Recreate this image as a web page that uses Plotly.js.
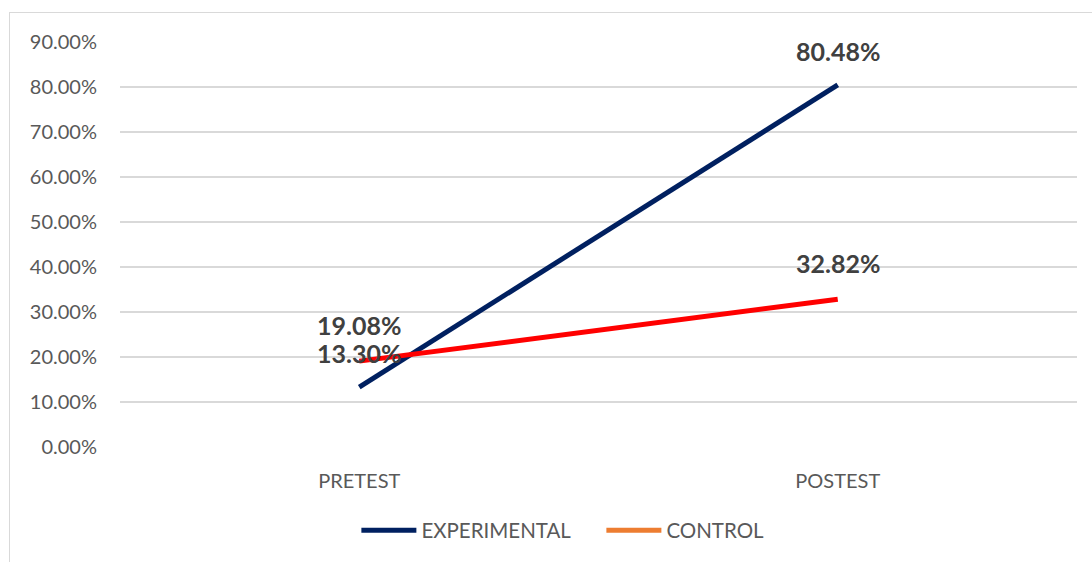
<!DOCTYPE html>
<html><head><meta charset="utf-8">
<script src="https://cdn.plot.ly/plotly-3.0.1.min.js"></script>
<style>
html,body{margin:0;padding:0;background:#fff;width:1092px;height:562px;overflow:hidden;}
#frame{position:absolute;left:9px;top:12px;width:1200px;height:700px;border:1.5px solid #d9d9d9;box-sizing:border-box;}
#chart{position:absolute;left:0;top:0;width:1092px;height:562px;}
</style></head>
<body>
<div id="frame"></div>
<div id="chart"></div>
<script>
const categories = ["PRETEST", "POSTEST"];
const experimental = [0.1330, 0.8048];
const control = [0.1908, 0.3282];
const expLabels = ["13.30%", "80.48%"];
const ctrlLabels = ["19.08%", "32.82%"];
const yTicks = [0, 0.1, 0.2, 0.3, 0.4, 0.5, 0.6, 0.7, 0.8, 0.9];

const font = "Lato, 'Open Sans', sans-serif";
const labelFont = {family: font, size: 25, color: "#404040", weight: "bold"};
const traces = [
  {x: categories, y: experimental, type: "scatter", mode: "lines", name: "EXPERIMENTAL",
   line: {color: "#002060", width: 5}},
  {x: categories, y: control, type: "scatter", mode: "lines", name: "CONTROL", showlegend: false,
   line: {color: "#FF0000", width: 5}},
  {x: [null], y: [null], type: "scatter", mode: "lines", name: "CONTROL",
   line: {color: "#ED7D31", width: 5}}
];
const annotations = [];
categories.forEach((c, i) => {
  annotations.push({x: c, y: experimental[i], xref: "x", yref: "y", text: expLabels[i], showarrow: false,
                    yshift: 34, font: labelFont});
  annotations.push({x: c, y: control[i], xref: "x", yref: "y", text: ctrlLabels[i], showarrow: false,
                    yshift: 36, font: labelFont});
});
const layout = {
  width: 1092, height: 562,
  margin: {l: 120, r: 15, t: 42, b: 112},
  paper_bgcolor: "rgba(0,0,0,0)", plot_bgcolor: "rgba(0,0,0,0)",
  font: {family: font, size: 20, color: "#595959"},
  showlegend: true,
  legend: {orientation: "h", x: 0.247, xanchor: "left", y: -0.206, yanchor: "middle",
           font: {size: 20.5, color: "#595959"}, itemwidth: 55, entrywidth: 175, tracegroupgap: 0},
  annotations: annotations,
  xaxis: {type: "category", range: [-0.5, 1.5], showgrid: false, zeroline: false, showline: false, ticks: "",
          tickfont: {size: 20, color: "#595959"}, ticklabelstandoff: 20},
  yaxis: {range: [0, 0.9], tickvals: yTicks, tickformat: ".2%", showgrid: true, gridcolor: "#d9d9d9",
          gridwidth: 1.5, zeroline: false, showline: false, ticks: "", ticklabelstandoff: 22,
          tickfont: {size: 20, color: "#595959"}}
};
Plotly.newPlot("chart", traces, layout, {displayModeBar: false, staticPlot: true});
</script>
</body></html>
